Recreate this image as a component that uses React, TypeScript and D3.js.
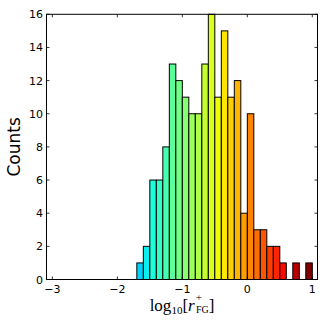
import React, { useEffect, useRef } from 'react'
import * as d3 from 'd3'

// histogram bins (left edge) and counts
const binStarts = [-1.7, -1.6, -1.5, -1.4, -1.3, -1.2, -1.1, -1.0, -0.9, -0.8, -0.7, -0.6, -0.5, -0.4,
  -0.3, -0.2, -0.1, 0.0, 0.1, 0.2, 0.3, 0.4, 0.5, 0.6, 0.7, 0.8, 0.9]
const counts = [1, 2, 6, 6, 8, 13, 12, 11, 10, 10, 13, 16, 11, 15, 11, 12, 4, 10, 3, 3, 2, 2, 1, 0, 1, 0, 1]
const binWidth = 0.1
const xTicks = [-3, -2, -1, 0, 1]
const yTicks = [0, 2, 4, 6, 8, 10, 12, 14, 16]

// matplotlib jet
function jet(t: number) {
  const seg = (pts: number[][]) => {
    for (let i = 1; i < pts.length; i++) {
      if (t <= pts[i][0]) {
        const [x0, y0] = pts[i - 1]
        const [x1, y1] = pts[i]
        return y0 + (y1 - y0) * (t - x0) / (x1 - x0)
      }
    }
    return pts[pts.length - 1][1]
  }
  const r = seg([[0, 0], [0.35, 0], [0.66, 1], [0.89, 1], [1, 0.5]])
  const g = seg([[0, 0], [0.125, 0], [0.375, 1], [0.64, 1], [0.91, 0], [1, 0]])
  const b = seg([[0, 0.5], [0.11, 1], [0.34, 1], [0.65, 0], [1, 0]])
  return d3.rgb(r * 255, g * 255, b * 255).formatHex()
}

function App() {
  const svgRef = useRef<SVGSVGElement>(null)

  useEffect(() => {
    const width = 327
    const height = 327
    const svg = d3.select(svgRef.current)
      .attr('width', width)
      .attr('height', height)
    svg.selectAll('*').remove()

    const x = d3.scaleLinear().domain([-3.09, 1.08]).range([46.5, 317.5])
    const y = d3.scaleLinear().domain([0, 16]).range([279.5, 14.3])

    // bars, coloured by bin index over the -3..1 range (40 bins)
    svg.append('g')
      .selectAll('rect')
      .data(binStarts.map((s, i) => ({ s, c: counts[i] })).filter(d => d.c > 0))
      .join('rect')
      .attr('x', d => x(d.s))
      .attr('y', d => y(d.c))
      .attr('width', d => x(d.s + binWidth) - x(d.s))
      .attr('height', d => y(0) - y(d.c))
      .style('fill', d => jet(Math.round((d.s + 3) / binWidth) / 39))
      .style('stroke', '#000')
      .style('stroke-width', 1)

    // frame
    const [x0, x1] = x.range()
    const [y0, y1] = y.range()
    svg.append('rect')
      .attr('x', x0).attr('y', y1)
      .attr('width', x1 - x0).attr('height', y0 - y1)
      .style('fill', 'none').style('stroke', '#000').style('stroke-width', 1)

    const tickLen = 3
    const ticks = svg.append('g').style('stroke', '#000').style('stroke-width', 0.8)
    xTicks.forEach(t => {
      ticks.append('line').attr('x1', x(t)).attr('x2', x(t)).attr('y1', y0).attr('y2', y0 - tickLen)
      ticks.append('line').attr('x1', x(t)).attr('x2', x(t)).attr('y1', y1).attr('y2', y1 + tickLen)
    })
    yTicks.forEach(t => {
      ticks.append('line').attr('x1', x0).attr('x2', x0 + tickLen).attr('y1', y(t)).attr('y2', y(t))
      ticks.append('line').attr('x1', x1).attr('x2', x1 - tickLen).attr('y1', y(t)).attr('y2', y(t))
    })

    const font = 'DejaVu Sans, sans-serif'
    svg.append('g')
      .selectAll('text')
      .data(xTicks)
      .join('text')
      .attr('x', d => x(d))
      .attr('y', 293)
      .attr('text-anchor', 'middle')
      .style('font-family', font)
      .style('font-size', '11px')
      .text(d => d < 0 ? '\u2212' + Math.abs(d) : String(d))

    svg.append('g')
      .selectAll('text')
      .data(yTicks)
      .join('text')
      .attr('x', 43)
      .attr('y', d => y(d) + 4)
      .attr('text-anchor', 'end')
      .style('font-family', font)
      .style('font-size', '11px')
      .text(d => String(d))

    svg.append('text')
      .attr('transform', `translate(20,${(y0 + y1) / 2}) rotate(-90)`)
      .attr('text-anchor', 'middle')
      .style('font-family', font)
      .style('font-size', '17px')
      .text('Counts')

    // log10[r+_FG]
    const xl = svg.append('text')
      .attr('x', 182)
      .attr('y', 311)
      .attr('text-anchor', 'middle')
      .style('font-family', 'Liberation Serif, DejaVu Serif, serif')
      .style('font-size', '17px')
    xl.append('tspan').text('log')
    xl.append('tspan').attr('dy', 3).style('font-size', '11px').text('10')
    xl.append('tspan').attr('dy', -3).text('[')
    xl.append('tspan').style('font-style', 'italic').text('r')
    xl.append('tspan').attr('dx', 1).attr('dy', -10).style('font-size', '11px').text('+')
    xl.append('tspan').attr('dx', -6).attr('dy', 12).style('font-size', '10px').text('FG')
    xl.append('tspan').attr('dy', -2).text(']')
  }, [])

  return (
    <svg ref={svgRef} style={{ position: 'absolute', left: 0, top: 0, background: '#fff' }}></svg>
  )
}

export default App
